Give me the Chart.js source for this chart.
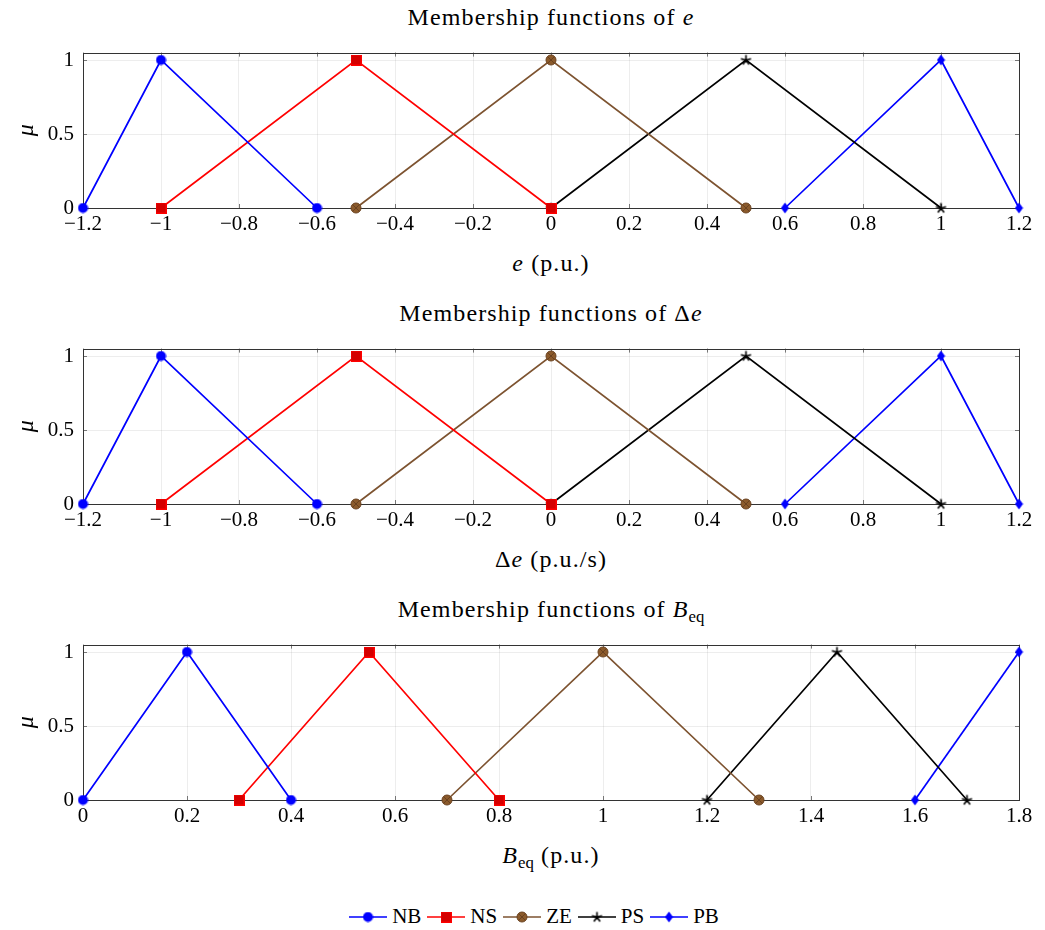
<!DOCTYPE html>
<html>
<head>
<meta charset="utf-8">
<script src="https://cdn.jsdelivr.net/npm/chart.js@4.4.1/dist/chart.umd.min.js"></script>
<style>
  body { margin:0; background:#fff; }
  #page { position:relative; width:1045px; height:930px; font-family:"Liberation Serif", "DejaVu Serif", serif; color:#000; }
  canvas.cv { position:absolute; left:0; }
  .lbl { position:absolute; left:83px; width:936px; text-align:center; font-size:24px; letter-spacing:1.1px; line-height:28px; white-space:nowrap; }
  .lbl sub { font-size:70%; line-height:0; vertical-align:-0.3em; letter-spacing:0; }
  #legend { position:absolute; left:0; width:1074px; top:904px; display:flex; justify-content:center; align-items:center; font-size:21px; }
  #legend .it { display:flex; align-items:center; margin-right:6px; }
  #legend canvas { margin-right:5px; }
</style>
</head>
<body>
<div id="page">
  <div class="lbl" style="top:3px">Membership functions of <i>e</i></div>
  <canvas class="cv" id="c1" width="1045" height="212" style="top:31px"></canvas>
  <div class="lbl" style="top:249px"><i>e</i> (p.u.)</div>

  <div class="lbl" style="top:299px">Membership functions of Δ<i>e</i></div>
  <canvas class="cv" id="c2" width="1045" height="212" style="top:327px"></canvas>
  <div class="lbl" style="top:545px">Δ<i>e</i> (p.u./s)</div>

  <div class="lbl" style="top:595px">Membership functions of <i>B</i><sub>eq</sub></div>
  <canvas class="cv" id="c3" width="1045" height="212" style="top:623px"></canvas>
  <div class="lbl" style="top:841px"><i>B</i><sub>eq</sub> (p.u.)</div>

  <div id="legend"></div>
</div>
<script>
// fuzzy sets
const setNames = ['NB', 'NS', 'ZE', 'PS', 'PB'];

// e
const eX  = [[-1.2, -1, -0.6], [-1, -0.5, 0], [-0.5, 0, 0.5], [0, 0.5, 1], [0.6, 1, 1.2]];
const eMu = [[0, 1, 0], [0, 1, 0], [0, 1, 0], [0, 1, 0], [0, 1, 0]];
// delta e
const deX  = [[-1.2, -1, -0.6], [-1, -0.5, 0], [-0.5, 0, 0.5], [0, 0.5, 1], [0.6, 1, 1.2]];
const deMu = [[0, 1, 0], [0, 1, 0], [0, 1, 0], [0, 1, 0], [0, 1, 0]];
// B_eq
const bX  = [[0, 0.2, 0.4], [0.3, 0.55, 0.8], [0.7, 1, 1.3], [1.2, 1.45, 1.7], [1.6, 1.8]];
const bMu = [[0, 1, 0], [0, 1, 0], [0, 1, 0], [0, 1, 0], [0, 1]];

// ticks
const xTicksE = [-1.2, -1, -0.8, -0.6, -0.4, -0.2, 0, 0.2, 0.4, 0.6, 0.8, 1, 1.2];
const xTicksB = [0, 0.2, 0.4, 0.6, 0.8, 1, 1.2, 1.4, 1.6, 1.8];
const muTicks = [0, 0.5, 1];

const lineColors = ['#0000ff', '#ff0000', '#7d5330', '#000000', '#0000ff'];
const FONT = '"Liberation Serif", "DejaVu Serif", serif';

// markers (pgfplots-like)
function mk(w, h, draw){
  const c = document.createElement('canvas');
  c.width = w; c.height = h;
  draw(c.getContext('2d'), w, h);
  return c;
}
const markers = [
  mk(11, 11, (g) => { g.fillStyle = '#0000ff'; g.beginPath(); g.arc(5.5, 5.5, 5, 0, Math.PI*2); g.fill(); }),
  mk(11, 11, (g) => { g.fillStyle = '#d40000'; g.fillRect(0.5, 0.5, 10, 10); g.strokeStyle = '#ff0000'; g.lineWidth = 1; g.strokeRect(0.5, 0.5, 10, 10); }),
  mk(12, 12, (g) => {
    g.fillStyle = '#8b5a2b'; g.strokeStyle = '#6a4220'; g.lineWidth = 1;
    g.beginPath(); g.arc(6, 6, 5, 0, Math.PI*2); g.fill(); g.stroke();
    const d = 5 * Math.SQRT1_2;
    g.beginPath(); g.moveTo(6-d, 6-d); g.lineTo(6+d, 6+d); g.moveTo(6+d, 6-d); g.lineTo(6-d, 6+d); g.stroke();
  }),
  mk(13, 13, (g) => {
    g.strokeStyle = '#000'; g.lineWidth = 1.6; g.beginPath();
    for (let k = 0; k < 5; k++){
      const a = -Math.PI/2 + k*2*Math.PI/5;
      g.moveTo(6.5, 6.8); g.lineTo(6.5 + 5.3*Math.cos(a), 6.8 + 5.3*Math.sin(a));
    }
    g.stroke();
  }),
  mk(9, 12, (g) => {
    g.fillStyle = '#0000ff'; g.beginPath();
    g.moveTo(4.5, 0.5); g.lineTo(8.5, 6); g.lineTo(4.5, 11.5); g.lineTo(0.5, 6); g.closePath(); g.fill();
  })
];

const fmt = v => String(+(+v).toFixed(2)).replace('-', '\u2212');

// frame + inward ticks
const framePlugin = {
  id: 'frame',
  beforeDatasetsDraw(chart){
    const { ctx, chartArea: a, scales: { x, y } } = chart;
    ctx.save();
    ctx.strokeStyle = '#777'; ctx.lineWidth = 1;
    ctx.beginPath();
    x.ticks.forEach(t => {
      const px = Math.round(x.getPixelForValue(t.value)) + 0.5;
      ctx.moveTo(px, a.bottom); ctx.lineTo(px, a.bottom - 4);
      ctx.moveTo(px, a.top); ctx.lineTo(px, a.top + 4);
    });
    y.ticks.forEach(t => {
      const py = Math.round(y.getPixelForValue(t.value)) + 0.5;
      ctx.moveTo(a.left, py); ctx.lineTo(a.left + 4, py);
      ctx.moveTo(a.right, py); ctx.lineTo(a.right - 4, py);
    });
    ctx.stroke();
    ctx.strokeStyle = '#333';
    ctx.strokeRect(Math.round(a.left) + 0.5, Math.round(a.top) + 0.5, Math.round(a.right - a.left), Math.round(a.bottom - a.top));
    ctx.restore();
  }
};

function makeChart(id, xs, mus, xTicks, xmin, xmax){
  const datasets = xs.map((arr, i) => ({
    label: setNames[i],
    data: arr.map((v, j) => ({ x: v, y: mus[i][j] })),
    showLine: true,
    borderColor: lineColors[i],
    backgroundColor: lineColors[i],
    borderWidth: 1.7,
    pointStyle: markers[i],
    pointRadius: 5,
    tension: 0,
    clip: false
  }));
  return new Chart(document.getElementById(id), {
    type: 'scatter',
    data: { datasets },
    options: {
      responsive: false,
      animation: false,
      events: [],
      layout: { padding: { top: 0, right: 26, left: 0, bottom: 0 } },
      plugins: { legend: { display: false }, tooltip: { enabled: false } },
      scales: {
        x: {
          type: 'linear', min: xmin, max: xmax,
          afterBuildTicks: s => { s.ticks = xTicks.map(v => ({ value: v })); },
          afterFit: s => { s.height = 35; },
          grid: { color: 'rgba(0,0,0,0.07)', drawTicks: false },
          border: { display: false },
          ticks: { callback: fmt, padding: 4, color: '#000', maxRotation: 0, autoSkip: false, font: { family: FONT, size: 21 } }
        },
        y: {
          min: 0, max: 1.05,
          afterBuildTicks: s => { s.ticks = muTicks.map(v => ({ value: v })); },
          afterFit: s => { s.width = 83; },
          grid: { color: 'rgba(0,0,0,0.07)', drawTicks: false },
          border: { display: false },
          ticks: { callback: fmt, padding: 9, color: '#000', font: { family: FONT, size: 21 } },
          title: { display: true, text: 'μ', color: '#000', padding: { top: 12, bottom: 0 }, font: { family: FONT, size: 24, style: 'italic' } }
        }
      }
    },
    plugins: [framePlugin]
  });
}

makeChart('c1', eX, eMu, xTicksE, -1.2, 1.2);
makeChart('c2', deX, deMu, xTicksE, -1.2, 1.2);
makeChart('c3', bX, bMu, xTicksB, 0, 1.8);

// legend
const legend = document.getElementById('legend');
setNames.forEach((name, i) => {
  const it = document.createElement('div');
  it.className = 'it';
  const c = document.createElement('canvas');
  c.width = 38; c.height = 16;
  const g = c.getContext('2d');
  g.strokeStyle = lineColors[i]; g.lineWidth = 1.7;
  g.beginPath(); g.moveTo(0, 8); g.lineTo(38, 8); g.stroke();
  const m = markers[i];
  g.drawImage(m, 19 - m.width/2, 8 - m.height/2);
  const s = document.createElement('span');
  s.textContent = name;
  it.appendChild(c); it.appendChild(s);
  legend.appendChild(it);
});
</script>
</body>
</html>
